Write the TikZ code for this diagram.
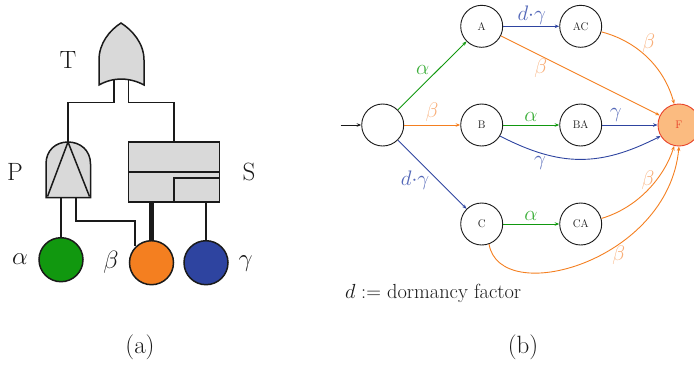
\documentclass[tikz,border=0pt]{standalone}
\usepackage{fix-cm}
\usetikzlibrary{arrows.meta}
\definecolor{cgreen}{HTML}{11980F}
\definecolor{corange}{HTML}{F47F20}
\definecolor{cblue}{HTML}{2E44A0}
\definecolor{lgreen}{HTML}{3DAF3B}
\definecolor{lorange}{HTML}{F8AE78}
\definecolor{lblue}{HTML}{5468B8}
\definecolor{gatefill}{HTML}{D9D9D9}
\definecolor{ink}{HTML}{1A1A1A}
\definecolor{ffill}{HTML}{FBBB80}
\definecolor{fline}{HTML}{E8432A}
\newcommand{\bigfs}{\fontsize{25}{28}\selectfont}
\newcommand{\midfs}{\fontsize{21}{24}\selectfont}
\newcommand{\txtfs}{\fontsize{20.4}{24}\selectfont}
\newcommand{\smfs}{\fontsize{11}{13}\selectfont}
\tikzset{
  gate/.style={draw=ink,fill=gatefill,line width=1.5pt,line join=miter},
  wire/.style={draw=ink,line width=1.5pt},
  event/.style={circle,draw=ink,line width=1.5pt,minimum size=44pt,inner sep=0pt},
  lab/.style={inner sep=0pt,text=ink},
  state/.style={circle,draw=ink,line width=0.9pt,minimum size=42pt,inner sep=0pt,font=\smfs,text=ink},
  arr/.style={line width=0.9pt,-{Stealth[length=4.5pt,width=3.5pt]}},
  lbl/.style={inner sep=0pt,font=\midfs},
}
\begin{document}
\begin{tikzpicture}[x=1pt,y=-1pt]
\useasboundingbox (0,0) rectangle (694,365);
% ---- (a) fault tree
\path[gate] (99,85) -- (99,60) .. controls (99,43) and (110,30) .. (121,23) .. controls (132,30) and (144,43) .. (144,60) -- (144,85) .. controls (137,81) and (128,79) .. (121,79) .. controls (114,79) and (106,81) .. (99,85) -- cycle;
\coordinate (orL) at (114,80);
\coordinate (orR) at (128.5,80);
\path[gate] (46,197.7) -- (46,164) .. controls (46,150) and (56,142) .. (68,142) .. controls (80,142) and (90.5,150) .. (90.5,164) -- (90.5,197.7) -- cycle;
\coordinate (pTop) at (68,142);
\coordinate (pA) at (61,197.7);
\coordinate (pB) at (76,197.7);
\draw[wire] (47.5,196.5) -- (pTop) -- (89.5,196.5);
\node[draw=ink,fill=gatefill,line width=1.5pt,minimum width=91pt,minimum height=60pt,inner sep=0pt,outer sep=0pt] (S) at (174,172) {};
\draw[wire] (S.west) -- (S.east);
\draw[wire] (S.south) |- (219.5,178);
\coordinate (sA) at (151.5,202);
\coordinate (sB) at (206,202);
\draw[wire] (orL) -- (114,102.7) -- (68,102.7) -- (pTop);
\draw[wire] (orR) -- (128.5,102.7) -- (174,102.7) -- (S.north);
\node[event,fill=cgreen] (ea) at (61,259.7) {};
\node[event,fill=corange] (eb) at (151.5,262.7) {};
\node[event,fill=cblue] (ec) at (206,262.7) {};
\draw[wire] (pA) -- (ea);
\draw[wire] (pB) -- (76,221) -- (135,221) -- (135,246);
\draw[wire,line width=5pt] (sA) -- (eb);
\draw[wire] (sB) -- (ec);
\node[lab,font=\bigfs] (lT) at (68,60) {T};
\node[lab,font=\bigfs] (lP) at (15,172) {P};
\node[lab,font=\bigfs] (lS) at (249,172) {S};
\node[lab,font=\bigfs] (lal) at (20,259) {$\alpha$};
\node[lab,font=\bigfs] (lbe) at (111,262) {$\beta$};
\node[lab,font=\bigfs] (lga) at (245.7,264) {$\gamma$};
\node[lab,font=\bigfs] (capa) at (140,347) {(a)};
\node[lab,font=\bigfs] (capb) at (523,347) {(b)};
% ---- (b) chain
\node[state] (I) at (382.7,125) {};
\node[state] (A) at (481.7,26.3) {A};
\node[state] (AC) at (580.7,26.3) {AC};
\node[state] (B) at (481.7,125) {B};
\node[state] (BA) at (580.7,125) {BA};
\node[state] (C) at (481.7,224) {C};
\node[state] (CA) at (580.7,224) {CA};
\node[state,draw=fline,fill=ffill,text=fline] (F) at (679,125) {F};
\coordinate (start) at (340.5,125);
\draw[arr,ink] (start) -- (I);
\draw[arr,cgreen] (I) -- (A);
\draw[arr,corange] (I) -- (B);
\draw[arr,cblue] (I) -- (C);
\draw[arr,cblue] (A) -- (AC);
\draw[arr,corange] (A) -- (F);
\draw[arr,cgreen] (B) -- (BA);
\draw[arr,cblue] (BA) -- (F);
\draw[arr,cgreen] (C) -- (CA);
\draw[arr,corange] (AC.-15) .. controls (640,42) and (665,70) .. (F.103);
\draw[arr,cblue] (B.-31) .. controls (560,167) and (600,167) .. (F.211);
\draw[arr,corange] (CA.15) .. controls (640,207) and (665,175) .. (F.257);
\draw[arr,corange] (C.-70) .. controls (500,308) and (668,262) .. (F.270);
\node[lbl,text=lgreen] (l1) at (422.7,70) {$\alpha$};
\node[lbl,text=lorange] (l2) at (432,112) {$\beta$};
\node[lbl,text=lblue] (l3) at (531.7,15) {$d{\cdot}\gamma$};
\node[lbl,text=lorange] (l4) at (540.7,68) {$\beta$};
\node[lbl,text=lorange] (l5) at (648.7,43) {$\beta$};
\node[lbl,text=lgreen] (l6) at (531,117) {$\alpha$};
\node[lbl,text=lblue] (l7) at (615.7,115) {$\gamma$};
\node[lbl,text=lblue] (l8) at (540,163) {$\gamma$};
\node[lbl,text=lblue] (l9) at (415,180) {$d{\cdot}\gamma$};
\node[lbl,text=lgreen] (l10) at (531,216) {$\alpha$};
\node[lbl,text=lorange] (l11) at (648,180) {$\beta$};
\node[lbl,text=lorange] (l12) at (618.7,255) {$\beta$};
\node[lab,font=\txtfs,anchor=base west] (note) at (345,298) {$d:=$ dormancy factor};
\end{tikzpicture}
\end{document}
